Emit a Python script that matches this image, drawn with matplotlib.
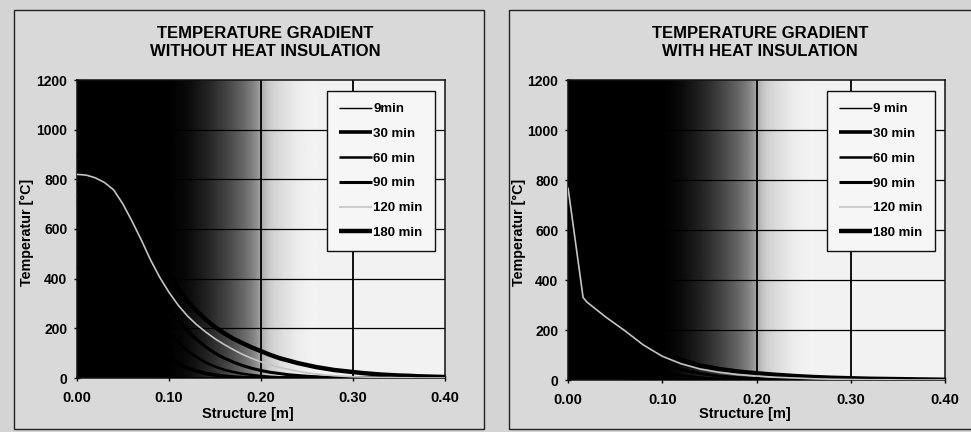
import numpy as np
import matplotlib
matplotlib.use("Agg")
import matplotlib.pyplot as plt
from matplotlib.patches import Rectangle

plt.rcParams['font.family'] = ['Liberation Sans', 'DejaVu Sans']
plt.rcParams['font.weight'] = 'bold'

# ---------------- data ----------------
titles = ["TEMPERATURE GRADIENT\nWITHOUT HEAT INSULATION",
          "TEMPERATURE GRADIENT\nWITH HEAT INSULATION"]
labels_left = ["9min", "30 min", "60 min", "90 min", "120 min", "180 min"]
labels_right = ["9 min", "30 min", "60 min", "90 min", "120 min", "180 min"]
xticks = [0.00, 0.10, 0.20, 0.30, 0.40]
xtick_labels = ["0.00", "0.10", "0.20", "0.30", "0.40"]
yticks = [0, 200, 400, 600, 800, 1000, 1200]

# without insulation: depth 0.00 .. 0.40 m in 0.01 m steps (41 points)
x_no = [0.00, 0.01, 0.02, 0.03, 0.04, 0.05, 0.06, 0.07, 0.08, 0.09,
        0.10, 0.11, 0.12, 0.13, 0.14, 0.15, 0.16, 0.17, 0.18, 0.19,
        0.20, 0.21, 0.22, 0.23, 0.24, 0.25, 0.26, 0.27, 0.28, 0.29,
        0.30, 0.31, 0.32, 0.33, 0.34, 0.35, 0.36, 0.37, 0.38, 0.39, 0.40]
no_9 = [450, 340, 250, 170, 110, 70, 40, 23, 12, 6, 3, 1, 0] + [0] * 28
no_30 = [620, 575, 520, 455, 380, 315, 250, 197, 150, 113, 82, 58, 40, 28,
         18, 12, 7, 4, 2, 1, 0] + [0] * 20
no_60 = [720, 700, 670, 620, 560, 490, 420, 355, 290, 235, 185, 145, 110, 84,
         62, 46, 33, 24, 17, 12, 8, 5, 3, 2, 1, 0] + [0] * 15
no_90 = [780, 770, 750, 715, 670, 610, 540, 470, 400, 338, 280, 232, 190, 155,
         125, 100, 80, 64, 50, 39, 30, 23, 18, 13, 10, 7, 5, 3, 2, 1, 0] + [0] * 10
no_120 = [820, 817, 806, 787, 757, 700, 630, 555, 475, 405, 345, 293, 250, 215,
          185, 158, 135, 114, 95, 79, 65, 53, 43, 35, 27, 21, 16, 12, 9, 7,
          5, 4, 3, 2, 2, 1, 1, 0, 0, 0, 0]
no_180 = [900, 895, 880, 855, 820, 765, 700, 630, 560, 490, 420, 360, 310, 270,
          235, 205, 180, 158, 140, 123, 108, 93, 80, 70, 60, 52, 44, 38, 32, 28,
          24, 20, 17, 14, 12, 10, 9, 7, 6, 5, 4]

# with insulation (x in m)
x_in = [0.00, 0.016, 0.02, 0.04, 0.06, 0.08, 0.10, 0.12, 0.14, 0.16, 0.18, 0.20,
        0.22, 0.24, 0.26, 0.28, 0.30, 0.32, 0.34, 0.36, 0.38, 0.40]
in_9 = [600, 60, 40, 15, 5, 2, 0, 0, 0, 0, 0, 0, 0, 0, 0, 0, 0, 0, 0, 0, 0, 0]
in_30 = [680, 150, 130, 75, 40, 20, 9, 4, 1, 0, 0, 0, 0, 0, 0, 0, 0, 0, 0, 0, 0, 0]
in_60 = [720, 230, 215, 150, 95, 58, 34, 19, 10, 5, 2, 1, 0, 0, 0, 0, 0, 0, 0, 0, 0, 0]
in_90 = [750, 290, 275, 210, 150, 100, 66, 42, 26, 16, 10, 6, 3, 2, 1, 0, 0, 0, 0, 0, 0, 0]
in_120 = [770, 330, 312, 252, 198, 140, 95, 65, 44, 31, 22, 16, 11, 8, 5, 3, 2, 1, 1, 0, 0, 0]
in_180 = [790, 350, 335, 270, 210, 155, 110, 80, 58, 44, 34, 27, 21, 16, 12, 9, 7, 5, 4, 3, 2, 1]

series_left = [no_9, no_30, no_60, no_90, no_120, no_180]
series_right = [in_9, in_30, in_60, in_90, in_120, in_180]

# ---------------- styles ----------------
line_styles = [
    dict(color="#000000", lw=1.0, ls="-", zorder=3),
    dict(color="#000000", lw=2.6, ls="-", zorder=3),
    dict(color="#000000", lw=1.8, ls="-", zorder=3),
    dict(color="#000000", lw=2.2, ls="-", zorder=3),
    dict(color="#c4c4c4", lw=1.2, ls="-", zorder=5),
    dict(color="#000000", lw=3.2, ls="-", zorder=4),
]

fig = plt.figure(figsize=(9.71, 4.32), dpi=100)
fig.patch.set_facecolor("#d4d4d4")

# panel frames
for (x0, y0, x1, y1) in [(14, 10, 484, 429), (509, 10, 975, 429)]:
    fig.patches.append(Rectangle((x0 / 971, 1 - y1 / 432), (x1 - x0) / 971, (y1 - y0) / 432,
                                 transform=fig.transFigure, fill=True, facecolor="#d9d9d9",
                                 edgecolor="#222222", lw=1.0, zorder=-5))

ax_pos = [[77 / 971, 1 - 378 / 432, (445 - 77) / 971, (378 - 80) / 432],
          [568 / 971, 1 - 380 / 432, (945 - 568) / 971, (380 - 80) / 432]]
title_x = [265, 760]
ylab_x = [27, 519]
xlab_x = [248, 745]

# gradient profile (style)
gx = np.linspace(0, 0.26, 600)
ctrl_x = [0.0, 0.10, 0.12, 0.14, 0.16, 0.18, 0.195, 0.2, 0.205, 0.22, 0.24, 0.26]
ctrl_v = [0.0, 0.0, 0.04, 0.13, 0.25, 0.40, 0.55, 0.66, 0.78, 0.86, 0.93, 0.955]
gv = np.interp(gx, ctrl_x, ctrl_v)
gv = np.convolve(np.pad(gv, 15, mode="edge"), np.ones(31) / 31, mode="valid")

for i in range(2):
    ax = fig.add_axes(ax_pos[i])
    ax.set_zorder(2)
    ax.set_facecolor("#f2f2f2")
    ax.imshow(gv[None, :], cmap="gray", vmin=0, vmax=1, aspect="auto",
              extent=[0, 0.26, 0, 1200], origin="lower", zorder=0,
              interpolation="bilinear")
    ax.set_xlim(0, 0.40)
    ax.set_ylim(0, 1200)
    for yv in [200, 400, 600, 800, 1000]:
        ax.axhline(yv, color="#000000", lw=0.9, zorder=1)
    for xv in [0.10, 0.20, 0.30]:
        ax.axvline(xv, color="#000000", lw=1.3, zorder=1)

    xs = x_no if i == 0 else x_in
    series = series_left if i == 0 else series_right
    labels = labels_left if i == 0 else labels_right
    handles = []
    for s, st, lab in zip(series, line_styles, labels):
        h, = ax.plot(xs, s, label=lab, solid_capstyle="butt", **st)
        handles.append(h)

    ax.set_xticks(xticks)
    ax.set_xticklabels(xtick_labels, fontsize=10.5, fontweight="bold")
    ax.set_yticks(yticks)
    ax.set_yticklabels([str(v) for v in yticks], fontsize=10, fontweight="bold")
    ax.tick_params(axis="x", direction="inout", length=4, pad=7, width=1)
    ax.tick_params(axis="y", direction="inout", length=4, pad=5, width=1)
    for sp in ax.spines.values():
        sp.set_color("#111111")
        sp.set_linewidth(1.1)

    leg = ax.legend(handles=handles, loc="upper right", fontsize=9.5,
                    frameon=True, fancybox=False, edgecolor="#111111",
                    facecolor="#f6f6f6", framealpha=1, handlelength=2.5,
                    handletextpad=0.1, labelspacing=0.95, borderpad=0.9,
                    bbox_to_anchor=(0.99, 0.985))
    leg.set_zorder(10)
    leg.get_frame().set_linewidth(1.0)
    for t in leg.get_texts():
        t.set_fontweight("bold")

    fig.text(title_x[i] / 971, 1 - 42 / 432, titles[i], ha="center", va="center",
             fontsize=12, fontweight="heavy", linespacing=1.25)
    fig.text(ylab_x[i] / 971, 1 - 232 / 432, "Temperatur [°C]", rotation=90,
             ha="center", va="center", fontsize=10.3, fontweight="bold")
    fig.text(xlab_x[i] / 971, 1 - 414 / 432, "Structure [m]", ha="center",
             va="center", fontsize=10.5, fontweight="bold")

fig.savefig("out.png", dpi=100, facecolor=fig.get_facecolor())
